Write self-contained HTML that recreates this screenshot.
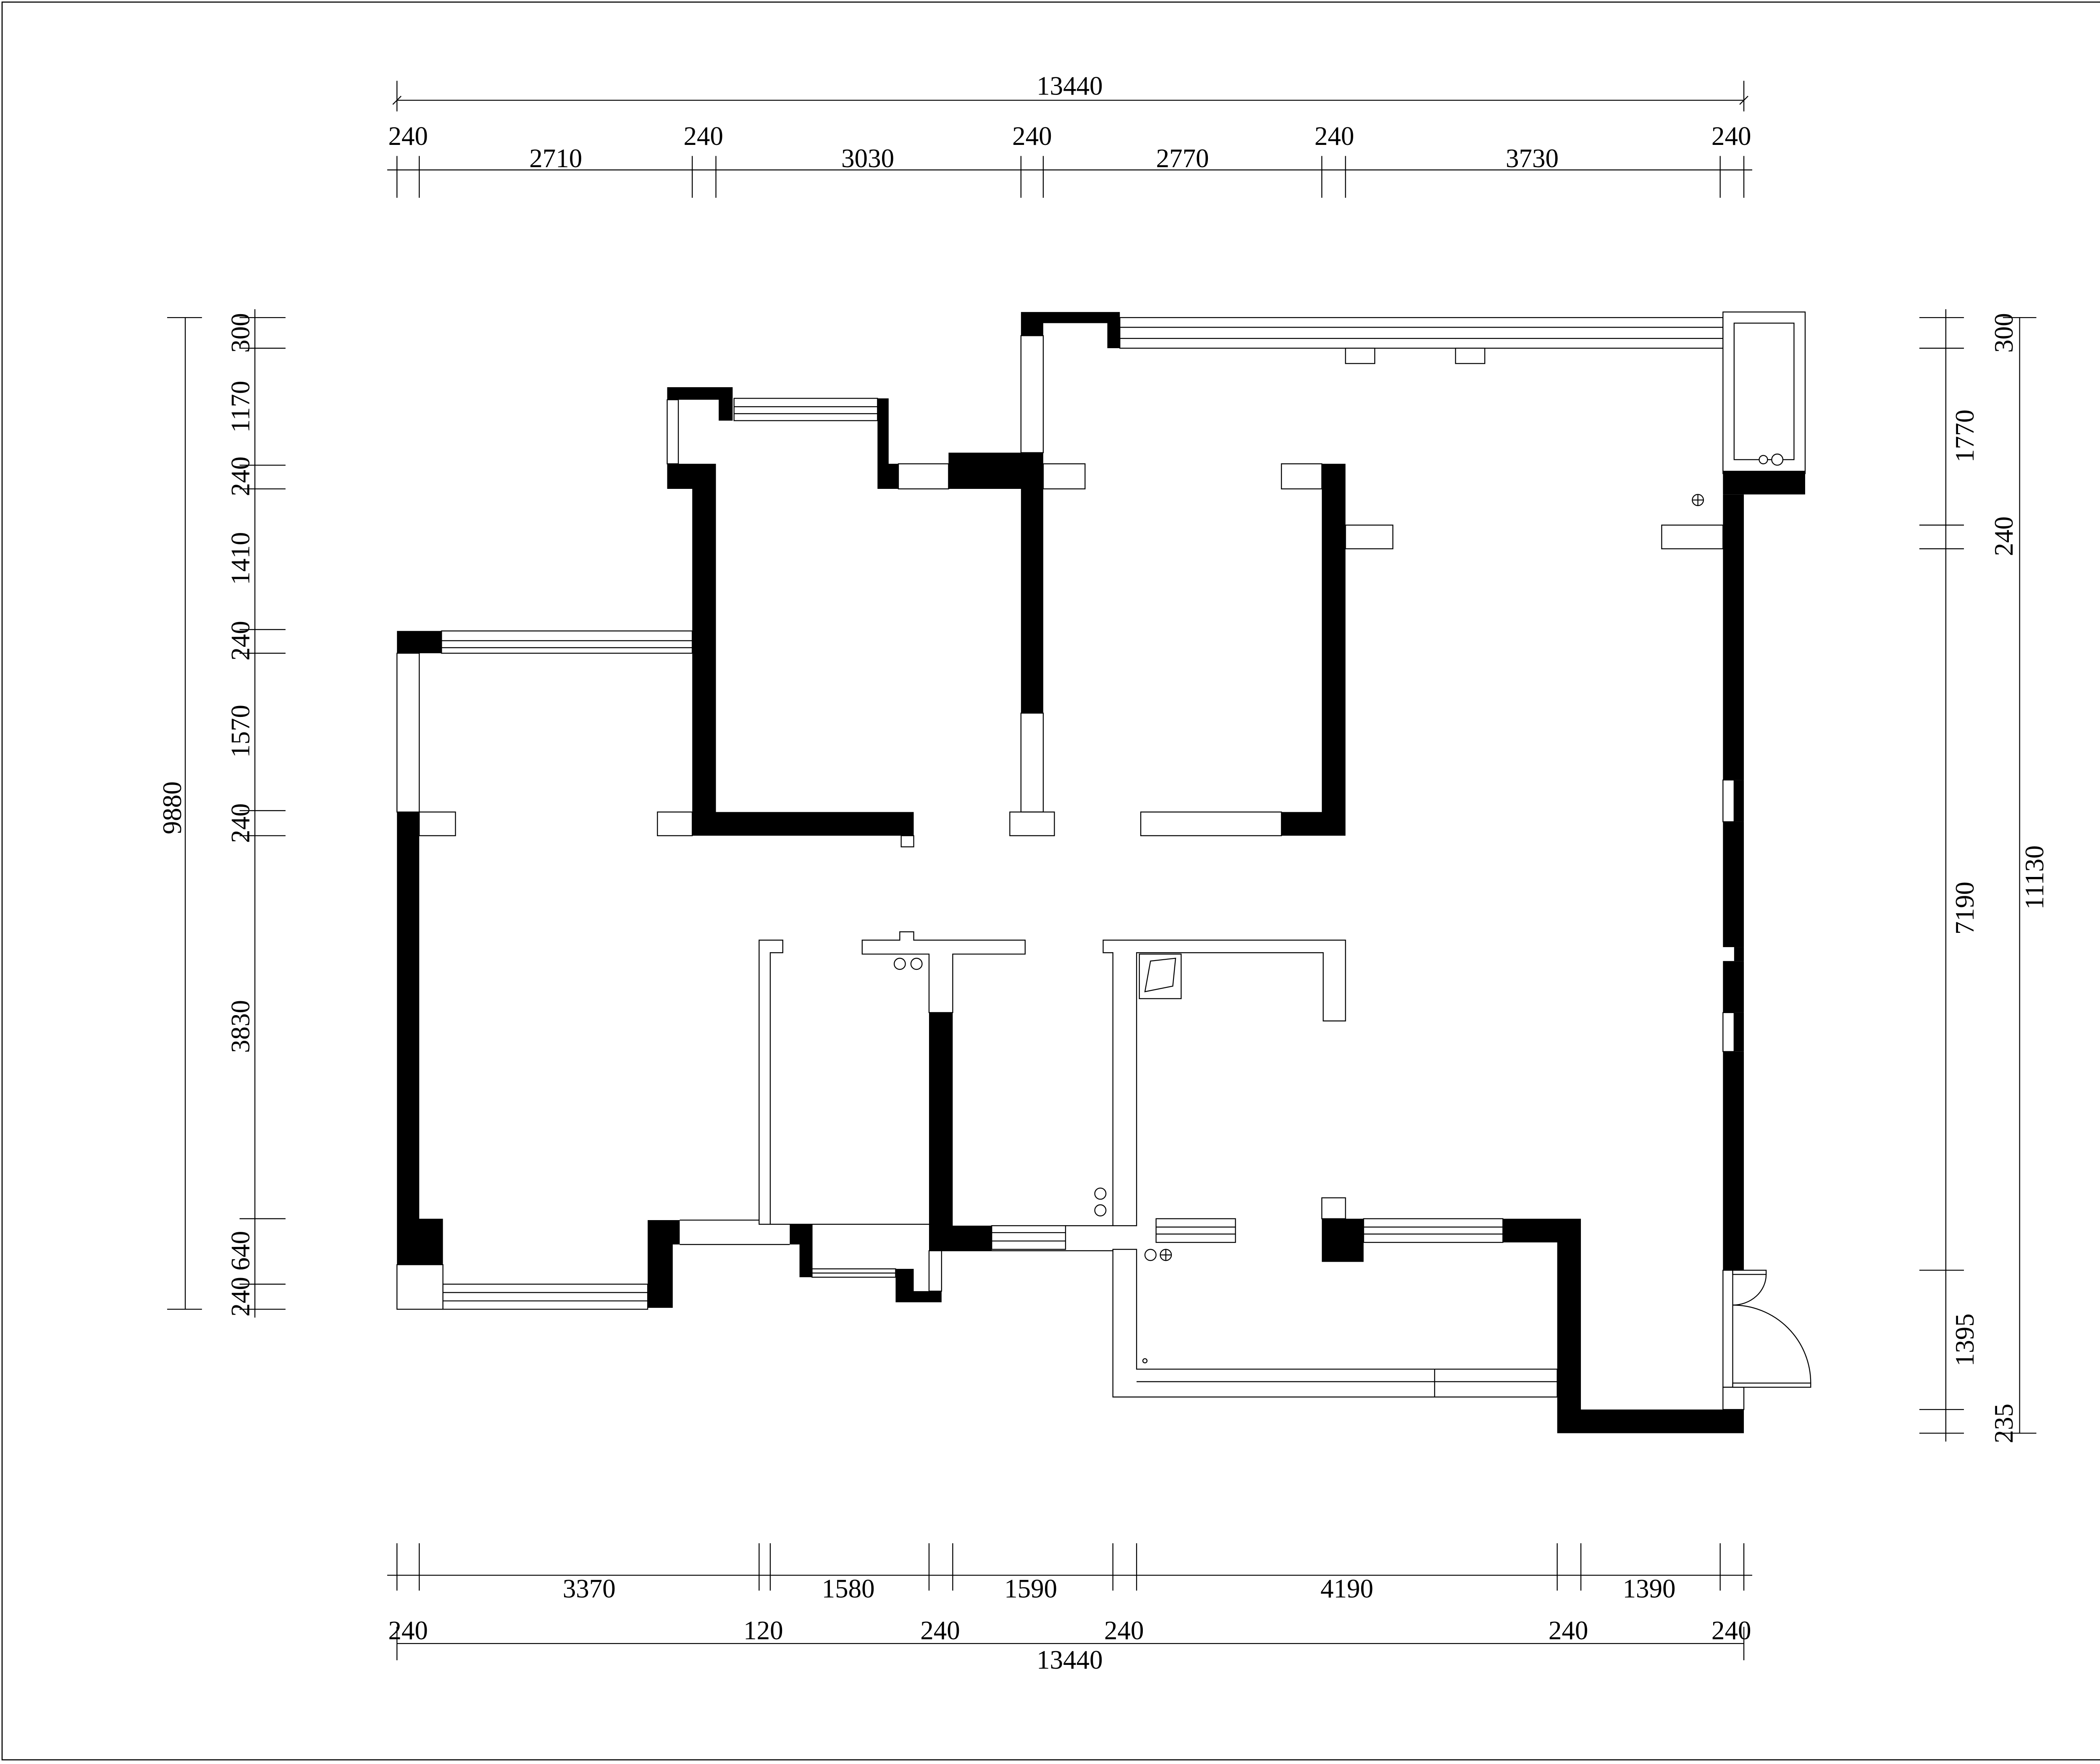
<!DOCTYPE html>
<html><head><meta charset="utf-8"><style>
html,body{margin:0;padding:0;background:#fff}
svg{display:block}
text{font-family:"Liberation Serif",serif;font-size:19px;fill:#000}
</style></head><body>
<svg width="5200" height="4200" viewBox="0 0 1568 1266.5" preserveAspectRatio="none" xmlns="http://www.w3.org/2000/svg">
<rect x="0" y="0" width="1568" height="1266.5" fill="#fff"/>
<rect x="1.5" y="1.5" width="1564" height="1262" fill="none" stroke="#000" stroke-width="0.8"/>
<g stroke="#000" stroke-width="0.7" fill="none">
<line x1="285" y1="72" x2="1252" y2="72"/>
<line x1="285" y1="58" x2="285" y2="80"/><line x1="1252" y1="58" x2="1252" y2="80"/>
<line x1="282" y1="75" x2="288" y2="69"/><line x1="1249" y1="75" x2="1255" y2="69"/>
<line x1="278" y1="122" x2="1258" y2="122"/>
<line x1="285" y1="112" x2="285" y2="142"/><line x1="301" y1="112" x2="301" y2="142"/>
<line x1="497" y1="112" x2="497" y2="142"/><line x1="514" y1="112" x2="514" y2="142"/>
<line x1="733" y1="112" x2="733" y2="142"/><line x1="749" y1="112" x2="749" y2="142"/>
<line x1="949" y1="112" x2="949" y2="142"/><line x1="966" y1="112" x2="966" y2="142"/>
<line x1="1235" y1="112" x2="1235" y2="142"/><line x1="1252" y1="112" x2="1252" y2="142"/>
<line x1="278" y1="1131" x2="1258" y2="1131"/>
<line x1="285" y1="1108" x2="285" y2="1142"/><line x1="301" y1="1108" x2="301" y2="1142"/>
<line x1="545" y1="1108" x2="545" y2="1142"/><line x1="553" y1="1108" x2="553" y2="1142"/>
<line x1="667" y1="1108" x2="667" y2="1142"/><line x1="684" y1="1108" x2="684" y2="1142"/>
<line x1="799" y1="1108" x2="799" y2="1142"/><line x1="816" y1="1108" x2="816" y2="1142"/>
<line x1="1118" y1="1108" x2="1118" y2="1142"/><line x1="1135" y1="1108" x2="1135" y2="1142"/>
<line x1="1235" y1="1108" x2="1235" y2="1142"/><line x1="1252" y1="1108" x2="1252" y2="1142"/>
<line x1="285" y1="1180" x2="1252" y2="1180"/>
<line x1="285" y1="1168" x2="285" y2="1192"/><line x1="1252" y1="1168" x2="1252" y2="1192"/>
<line x1="133" y1="228" x2="133" y2="940"/>
<line x1="120" y1="228" x2="145" y2="228"/><line x1="120" y1="940" x2="145" y2="940"/>
<line x1="183" y1="222" x2="183" y2="946"/>
<line x1="172" y1="228" x2="205" y2="228"/><line x1="172" y1="250" x2="205" y2="250"/>
<line x1="172" y1="334" x2="205" y2="334"/><line x1="172" y1="351" x2="205" y2="351"/>
<line x1="172" y1="452" x2="205" y2="452"/><line x1="172" y1="469" x2="205" y2="469"/>
<line x1="172" y1="582" x2="205" y2="582"/><line x1="172" y1="600" x2="205" y2="600"/>
<line x1="172" y1="875" x2="205" y2="875"/><line x1="172" y1="922" x2="205" y2="922"/>
<line x1="172" y1="940" x2="205" y2="940"/>
<line x1="1397" y1="222" x2="1397" y2="1035"/>
<line x1="1378" y1="228" x2="1410" y2="228"/><line x1="1378" y1="250" x2="1410" y2="250"/>
<line x1="1378" y1="377" x2="1410" y2="377"/><line x1="1378" y1="394" x2="1410" y2="394"/>
<line x1="1378" y1="912" x2="1410" y2="912"/><line x1="1378" y1="1012" x2="1410" y2="1012"/>
<line x1="1378" y1="1029" x2="1410" y2="1029"/>
<line x1="1450" y1="228" x2="1450" y2="1029"/>
<line x1="1438" y1="228" x2="1462" y2="228"/><line x1="1438" y1="1029" x2="1462" y2="1029"/>
</g>
<g>
<text x="768" y="68" text-anchor="middle">13440</text>
<text x="293" y="104" text-anchor="middle">240</text><text x="505" y="104" text-anchor="middle">240</text>
<text x="741" y="104" text-anchor="middle">240</text><text x="958" y="104" text-anchor="middle">240</text>
<text x="1243" y="104" text-anchor="middle">240</text>
<text x="399" y="120" text-anchor="middle">2710</text><text x="623" y="120" text-anchor="middle">3030</text>
<text x="849" y="120" text-anchor="middle">2770</text><text x="1100" y="120" text-anchor="middle">3730</text>
<text x="423" y="1147" text-anchor="middle">3370</text><text x="609" y="1147" text-anchor="middle">1580</text>
<text x="740" y="1147" text-anchor="middle">1590</text><text x="967" y="1147" text-anchor="middle">4190</text>
<text x="1184" y="1147" text-anchor="middle">1390</text>
<text x="293" y="1177" text-anchor="middle">240</text><text x="548" y="1177" text-anchor="middle">120</text>
<text x="675" y="1177" text-anchor="middle">240</text><text x="807" y="1177" text-anchor="middle">240</text>
<text x="1126" y="1177" text-anchor="middle">240</text><text x="1243" y="1177" text-anchor="middle">240</text>
<text x="768" y="1198" text-anchor="middle">13440</text>
<g text-anchor="middle">
<text transform="translate(130,580) rotate(-90)">9880</text>
<text transform="translate(179,239) rotate(-90)">300</text>
<text transform="translate(179,292) rotate(-90)">1170</text>
<text transform="translate(179,342) rotate(-90)">240</text>
<text transform="translate(179,401) rotate(-90)">1410</text>
<text transform="translate(179,460) rotate(-90)">240</text>
<text transform="translate(179,525) rotate(-90)">1570</text>
<text transform="translate(179,591) rotate(-90)">240</text>
<text transform="translate(179,737) rotate(-90)">3830</text>
<text transform="translate(179,898) rotate(-90)">640</text>
<text transform="translate(179,931) rotate(-90)">240</text>
<text transform="translate(1445,239) rotate(-90)">300</text>
<text transform="translate(1417,313) rotate(-90)">1770</text>
<text transform="translate(1445,385) rotate(-90)">240</text>
<text transform="translate(1417,652) rotate(-90)">7190</text>
<text transform="translate(1467,630) rotate(-90)">11130</text>
<text transform="translate(1417,962) rotate(-90)">1395</text>
<text transform="translate(1445,1022) rotate(-90)">235</text>
</g>
</g>
<g stroke="#000" stroke-width="0.7" fill="#fff">
<rect x="804" y="228" width="433" height="22"/>
<line x1="804" y1="235" x2="1237" y2="235"/><line x1="804" y1="243" x2="1237" y2="243"/>
<rect x="1237" y="224" width="59" height="116"/><rect x="1245" y="232" width="43" height="98"/>
<rect x="733" y="241" width="16" height="84"/>
<rect x="749" y="333" width="30" height="18"/>
<rect x="645" y="333" width="36" height="18"/>
<rect x="527" y="286" width="103" height="16"/>
<line x1="527" y1="292" x2="630" y2="292"/><line x1="527" y1="297" x2="630" y2="297"/>
<rect x="479" y="287" width="8" height="46"/>
<rect x="647" y="600" width="9" height="8"/>
<rect x="472" y="583" width="25" height="17"/>
<rect x="733" y="512" width="16" height="71"/>
<rect x="725" y="583" width="32" height="17"/>
<rect x="920" y="333" width="29" height="18"/>
<rect x="819" y="583" width="101" height="17"/>
<rect x="966" y="377" width="34" height="17"/>
<rect x="1193" y="377" width="44" height="17"/>
<rect x="966" y="250" width="21" height="11"/><rect x="1045" y="250" width="21" height="11"/>
<rect x="317" y="453" width="180" height="16"/>
<line x1="317" y1="460" x2="497" y2="460"/><line x1="317" y1="465" x2="497" y2="465"/>
<rect x="285" y="469" width="16" height="114"/>
<rect x="301" y="583" width="26" height="17"/>
<rect x="285" y="908" width="33" height="32"/>
<rect x="318" y="922" width="147" height="18"/>
<line x1="318" y1="928" x2="465" y2="928"/><line x1="318" y1="934" x2="465" y2="934"/>
<line x1="488" y1="876" x2="545" y2="876"/>
<line x1="488" y1="893.5" x2="567" y2="893.5"/>
<polygon points="545,876 545,675 562,675 562,684 553,684 553,879 545,879"/>
<line x1="553" y1="879" x2="667" y2="879"/>
<line x1="583" y1="879" x2="583" y2="911"/>
<rect x="583" y="911" width="60" height="6"/>
<line x1="583" y1="914" x2="643" y2="914"/>
<rect x="667" y="898" width="9" height="29"/>
<polygon points="619,675 646,675 646,669 656,669 656,675 736,675 736,685 684,685 684,727 667,727 667,685 619,685"/>
<circle cx="646" cy="692" r="4"/><circle cx="658" cy="692" r="4"/>
<rect x="712" y="880" width="53" height="17"/>
<line x1="712" y1="885" x2="765" y2="885"/><line x1="712" y1="891" x2="765" y2="891"/>
<line x1="765" y1="880" x2="799" y2="880"/>
<line x1="676" y1="898" x2="799" y2="898"/>
<polygon points="792,675 966,675 966,733 950,733 950,684 816,684 816,880 799,880 799,684 792,684"/>
<polygon points="799,897 816,897 816,983 1118,983 1118,1003 799,1003"/>
<line x1="816" y1="992" x2="1118" y2="992"/><line x1="1030" y1="983" x2="1030" y2="1003"/>
<rect x="818" y="685" width="30" height="32"/>
<polygon points="822,712 826,690 844,688 842,708"/>
<circle cx="790" cy="857" r="4"/><circle cx="790" cy="869" r="4"/>
<rect x="830" y="875" width="57" height="17"/>
<line x1="830" y1="881" x2="887" y2="881"/><line x1="830" y1="886" x2="887" y2="886"/>
<rect x="949" y="860" width="17" height="15"/>
<rect x="979" y="875" width="100" height="17"/>
<line x1="979" y1="881" x2="1079" y2="881"/><line x1="979" y1="886" x2="1079" y2="886"/>
<circle cx="826" cy="901" r="4"/><circle cx="837" cy="901" r="4"/>
<line x1="833" y1="901" x2="841" y2="901"/><line x1="837" y1="897" x2="837" y2="905"/>
<circle cx="1219" cy="359" r="4"/><line x1="1215" y1="359" x2="1223" y2="359"/><line x1="1219" y1="355" x2="1219" y2="363"/>
<circle cx="1266" cy="330" r="3"/><circle cx="1276" cy="330" r="4"/>
<circle cx="822" cy="977" r="1.5"/>
<rect x="1237" y="912" width="7" height="84"/>
<rect x="1237" y="996" width="15" height="16"/>
<rect x="1244" y="912" width="24" height="3"/>
<rect x="1244" y="993" width="56" height="3"/>
<path d="M1268,915 A24,22 0 0 1 1244,937" fill="none"/>
<path d="M1244,937 A56,56 0 0 1 1300,993" fill="none"/>
<rect x="1237" y="560" width="8" height="30"/>
<rect x="1237" y="727" width="8" height="28"/>
</g>
<g fill="#000">
<polygon points="733,224 804,224 804,250 795,250 795,232 749,232 749,241 733,241"/>
<rect x="1237" y="338" width="59" height="17"/>
<rect x="1237" y="355" width="15" height="205"/>
<rect x="1237" y="590" width="15" height="90"/>
<rect x="1245" y="680" width="7" height="10"/>
<rect x="1237" y="690" width="15" height="37"/>
<rect x="1237" y="755" width="15" height="157"/>
<rect x="1245" y="560" width="7" height="30"/>
<rect x="1245" y="727" width="7" height="28"/>
<polygon points="681,325 749,325 749,512 733,512 733,351 681,351"/>
<polygon points="630,286 638,286 638,333 645,333 645,351 630,351"/>
<polygon points="479,278 526,278 526,302 516,302 516,287 479,287"/>
<polygon points="479,333 514,333 514,583 656,583 656,600 497,600 497,351 479,351"/>
<polygon points="949,333 966,333 966,600 920,600 920,583 949,583"/>
<rect x="285" y="453" width="32" height="16"/>
<polygon points="285,583 301,583 301,875 318,875 318,908 285,908"/>
<polygon points="465,876 488,876 488,893.5 483,893.5 483,939 465,939"/>
<polygon points="567,879 583,879 583,917 574,917 574,893.5 567,893.5"/>
<polygon points="643,911 656,911 656,927 676,927 676,935 643,935"/>
<polygon points="667,727 684,727 684,880 712,880 712,898 667,898"/>
<rect x="949" y="875" width="30" height="31"/>
<polygon points="1079,875 1135,875 1135,1012 1252,1012 1252,1029 1118,1029 1118,892 1079,892"/>
</g>
</svg>
</body></html>
